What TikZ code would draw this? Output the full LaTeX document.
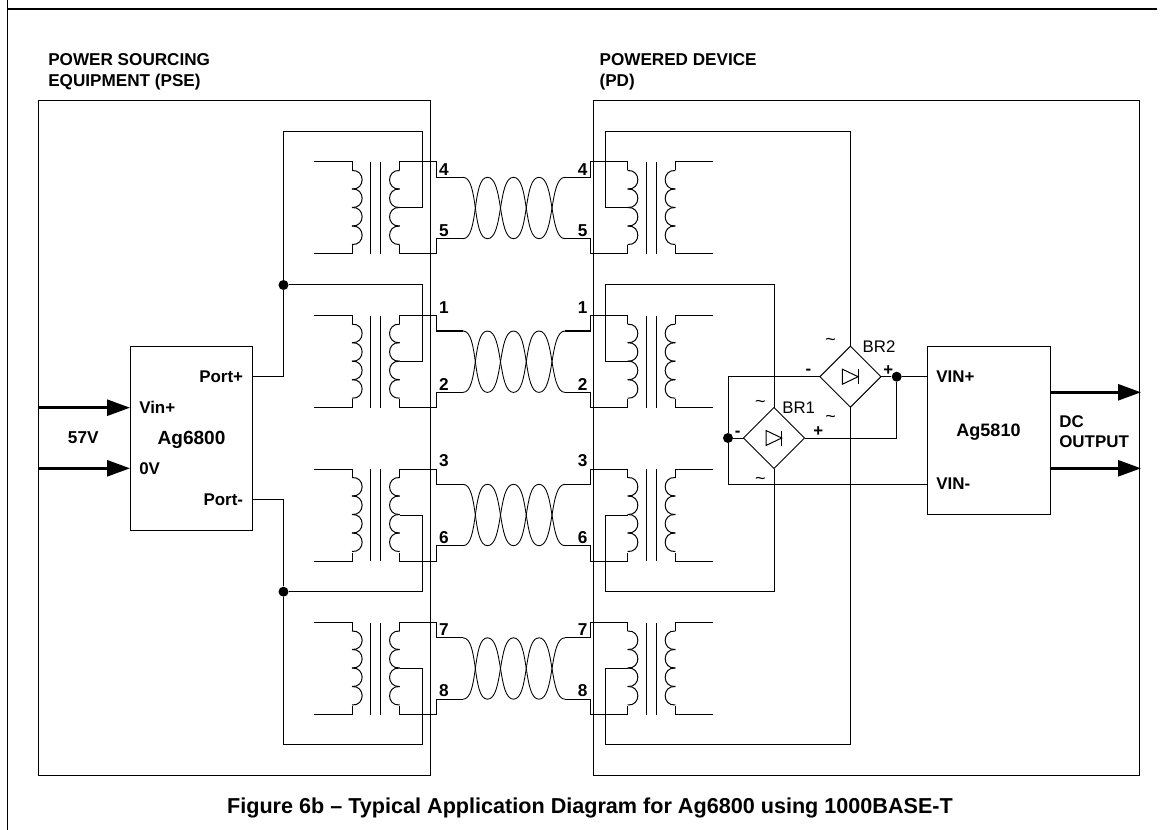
\documentclass[tikz,border=0pt]{standalone}
\usepackage{fontspec}
\setmainfont{Liberation Sans}
\usetikzlibrary{arrows.meta,shapes.geometric,calc}
\def\px{0.75pt}
\tikzset{
  wire/.style={line width=0.75pt,line join=miter,black},
  twist/.style={line width=0.65pt,black},
  border/.style={line width=1pt,black},
  boxst/.style={draw,line width=0.75pt,inner sep=0pt,outer sep=0pt,rectangle},
  bridge/.style={draw,line width=0.75pt,diamond,aspect=1,inner sep=0pt,outer sep=0pt,minimum width=61*\px,minimum height=61*\px},
  dot/.style={circle,fill=black,draw=none,inner sep=0pt,minimum size=10*\px},
  power/.style={line width=2pt,-{Triangle[length=17.25pt,width=12pt]}},
  labw/.style={font=\fontsize{12.7}{15}\bfseries\selectfont,inner sep=0pt,anchor=base west,yshift=-4.6pt},
  labe/.style={font=\fontsize{12.7}{15}\bfseries\selectfont,inner sep=0pt,anchor=base east,yshift=-4.6pt},
  labc/.style={font=\fontsize{12.9}{15}\bfseries\selectfont,inner sep=0pt,anchor=base,yshift=-4.6pt},
  partlab/.style={font=\fontsize{14.3}{16}\bfseries\selectfont,inner sep=0pt,anchor=base,yshift=-5.1pt},
  reg/.style={font=\fontsize{12.6}{15}\selectfont,inner sep=0pt,anchor=base,yshift=-4.5pt},
  sign/.style={font=\fontsize{12.6}{15}\selectfont,inner sep=0pt,anchor=base,yshift=-4.4pt},
  wave/.style={font=\fontsize{13.5}{15}\selectfont,inner sep=0pt,anchor=base,yshift=-5.2pt},
  head/.style={font=\fontsize{12.85}{16.2}\bfseries\selectfont,inner sep=0pt,anchor=north west,align=left},
  caption/.style={font=\fontsize{16.2}{18}\bfseries\selectfont,inner sep=0pt,anchor=base,yshift=-5.8pt},
}
\newcommand{\coilat}[3]{%
  \foreach \k in {0,...,3}{%
    \pgfmathsetmacro\ya{#2+8.5+18.5*\k}%
    \pgfmathsetmacro\yb{\ya+18.5}%
    \pgfmathsetmacro\xc{#1+#3*13.5}%
    \draw[wire] (#1,\ya) .. controls (\xc,\ya-1) and (\xc,\yb+1) .. (#1,\yb);
  }%
}
\newcommand{\diodeat}[1]{%
  \draw[wire] ($(#1)+(-8,-7.5)$) -- ($(#1)+(-8,7.5)$) -- ($(#1)+(7.7,0)$) -- cycle;
  \draw[wire] ($(#1)+(7.7,-7.5)$) -- ($(#1)+(7.7,7.5)$);
}
\begin{document}
\begin{tikzpicture}[x=0.75pt,y=-0.75pt]
\useasboundingbox (0,0) rectangle (1166,830);
% page rules
\coordinate (ruleT) at (7.5,0);
\coordinate (ruleB) at (7.5,830);
\coordinate (ruleL) at (7.5,9);
\coordinate (ruleR) at (1157,9);
\draw[border] (ruleT) -- (ruleB);
\draw[border] (ruleL) -- (ruleR);
% enclosures
\node[boxst,minimum width=392.4*\px,minimum height=674.5*\px] (pse) at (234.5,437.75) {};
\node[boxst,minimum width=545.7*\px,minimum height=674.5*\px] (pd) at (866.2,437.75) {};
\node[boxst,minimum width=122.7*\px,minimum height=184*\px] (ag6800) at (191.35,438) {};
\node[boxst,minimum width=122.7*\px,minimum height=168.5*\px] (ag5810) at (988.65,430.25) {};
\node[bridge] (br2) at (850.4,376.7) {};
\node[bridge] (br1) at (774,438) {};
\diodeat{br2}
\diodeat{br1}
% transformers and twisted pairs
\foreach \n/\t/\a/\b/\o in {A/162/4/5/7,B/315.7/1/2/-8.5,C/469/3/6/-9,D/622.5/7/8/7}{
  \pgfmathsetmacro\tb{\t+92}
  \pgfmathsetmacro\tt{\t+46}
  \pgfmathsetmacro\tu{\t+15.3}
  \pgfmathsetmacro\tl{\t+76.7}
  % left transformer
  \draw[wire] (314,\t) -- (352,\t) -- (352,\t+8.5);
  \draw[wire] (314,\tb) -- (352,\tb) -- (352,\tb-8.5);
  \coilat{352}{\t}{1}
  \draw[wire] (370.7,\t) -- (370.7,\tb);
  \draw[wire] (380.3,\t) -- (380.3,\tb);
  \coilat{399.7}{\t}{-1}
  \coordinate (tapL\n) at (399.7,\tt);
  \draw[wire] (399.7,\t+8.5) -- (399.7,\t) -- (436.7,\t) -- (436.7,\tu) -- (463,\tu);
  \draw[wire] (399.7,\tb-8.5) -- (399.7,\tb) -- (436.7,\tb) -- (436.7,\tl) -- (463,\tl);
  % right transformer
  \draw[wire] (627.7,\t+8.5) -- (627.7,\t) -- (590.7,\t) -- (590.7,\tu) -- (565,\tu);
  \draw[wire] (627.7,\tb-8.5) -- (627.7,\tb) -- (590.7,\tb) -- (590.7,\tl) -- (565,\tl);
  \coilat{627.7}{\t}{1}
  \draw[wire] (646.7,\t) -- (646.7,\tb);
  \draw[wire] (656.3,\t) -- (656.3,\tb);
  \coilat{675.3}{\t}{-1}
  \coordinate (tapR\n) at (627.7,\tt);
  \draw[wire] (712.7,\t) -- (675.3,\t) -- (675.3,\t+8.5);
  \draw[wire] (712.7,\tb) -- (675.3,\tb) -- (675.3,\tb-8.5);
  % twist
  \draw[twist] (463,\tu) .. controls (479,\tu) and (471.7,\tl) .. (487.5,\tl)
     .. controls (503.5,\tl) and (497.5,\tu) .. (513.5,\tu)
     .. controls (529.5,\tu) and (523,\tl) .. (539,\tl)
     .. controls (555,\tl) and (549,\tu) .. (565,\tu);
  \draw[twist] (463,\tl) .. controls (479,\tl) and (471.7,\tu) .. (487.5,\tu)
     .. controls (503.5,\tu) and (497.5,\tl) .. (513.5,\tl)
     .. controls (529.5,\tl) and (523,\tu) .. (539,\tu)
     .. controls (555,\tu) and (549,\tl) .. (565,\tl);
  % pin numbers
  \node[labc] (pl\a) at (444,\t+\o) {\a};
  \node[labc] (pr\a) at (582.7,\t+\o) {\a};
  \node[labc] (pl\b) at (444,\t+68.3) {\b};
  \node[labc] (pr\b) at (582.7,\t+68.3) {\b};
}
% junctions and bends
\node[dot] (jp) at (283.5,285) {};
\node[dot] (jm) at (283.5,591.7) {};
\node[dot] (jl) at (728,438) {};
\node[dot] (jr) at (896.7,376.7) {};
\coordinate (portp) at (252.7,376.7);
\coordinate (portm) at (252.7,499.3);
\coordinate (c1) at (422,132);
\coordinate (c2) at (422,285);
\coordinate (c3) at (422,591.7);
\coordinate (c4) at (422,744.7);
\coordinate (c5) at (605.7,132);
\coordinate (c6) at (605.7,285);
\coordinate (c7) at (605.7,591.7);
\coordinate (c8) at (605.7,744.7);
\coordinate (vinp) at (927.3,376.7);
\coordinate (vinm) at (927.3,484);
% PSE wiring
\draw[wire] (portp) -| (jp);
\draw[wire] (portm) -| (jm);
\draw[wire] (jp) |- (c1) |- (tapLA);
\draw[wire] (jp) -- (c2) |- (tapLB);
\draw[wire] (jm) -- (c3) |- (tapLC);
\draw[wire] (jm) |- (c4) |- (tapLD);
% PD wiring
\draw[wire] (tapRA) -| (c5) -| (br2.north);
\draw[wire] (tapRB) -| (c6) -| (br1.north);
\draw[wire] (tapRC) -| (c7) -| (br1.south);
\draw[wire] (tapRD) -| (c8) -| (br2.south);
\draw[wire] (br2.west) -| (jl);
\draw[wire] (jl) -- (br1.west);
\draw[wire] (jl) |- (vinm);
\draw[wire] (br2.east) -- (jr) -- (vinp);
\draw[wire] (br1.east) -| (jr);
% power arrows
\coordinate (in1) at (38.3,407.7);
\coordinate (in2) at (38.3,468.3);
\coordinate (in1e) at (130,407.7);
\coordinate (in2e) at (130,468.3);
\coordinate (out1) at (1050,392.3);
\coordinate (out2) at (1050,468.3);
\coordinate (out1e) at (1141,392.3);
\coordinate (out2e) at (1141,468.3);
\draw[power] (in1) -- (in1e);
\draw[power] (in2) -- (in2e);
\draw[power] (out1) -- (out1e);
\draw[power] (out2) -- (out2e);
% labels
\node[head] (psel) at (48,53) {POWER SOURCING\\EQUIPMENT (PSE)};
\node[head] (pdl) at (599.3,53) {POWERED DEVICE\\(PD)};
\node[labc] (v57) at (83.3,437.5) {57V};
\node[labw] (vinpl) at (139,407.7) {Vin+};
\node[labw] (zerov) at (139,468) {0V};
\node[labe] (pplus) at (243.3,376) {Port+};
\node[labe] (pminus) at (243.3,499.3) {Port-};
\node[partlab] (p1) at (191.5,437.7) {Ag6800};
\node[partlab,font=\fontsize{13.5}{16}\bfseries\selectfont] (p2) at (988.5,430) {Ag5810};
\node[labw] (v1) at (936,376) {VIN+};
\node[labw] (v2) at (936,483.3) {VIN-};
\node[labw,anchor=north west,align=left,yshift=0pt] (dcout) at (1059,409) {DC\\[0.5pt]OUTPUT};
\node[reg] (br2l) at (879,346) {BR2};
\node[reg] (br1l) at (798.7,407.3) {BR1};
\node[wave] (t1) at (830.7,339) {\textasciitilde};
\node[wave] (t2) at (830.7,415.7) {\textasciitilde};
\node[wave] (t3) at (760.3,400.7) {\textasciitilde};
\node[wave] (t4) at (760.3,477.7) {\textasciitilde};
\node[sign] (m2) at (808.3,368.7) {\bfseries -};
\node[sign] (s2) at (888.3,369.3) {\bfseries +};
\node[sign] (m1) at (737.7,430.7) {\bfseries -};
\node[sign] (s1) at (818.3,431) {\bfseries +};
\node[caption] (cap) at (590,805.7) {Figure 6b – Typical Application Diagram for Ag6800 using 1000BASE-T};
\end{tikzpicture}
\end{document}
